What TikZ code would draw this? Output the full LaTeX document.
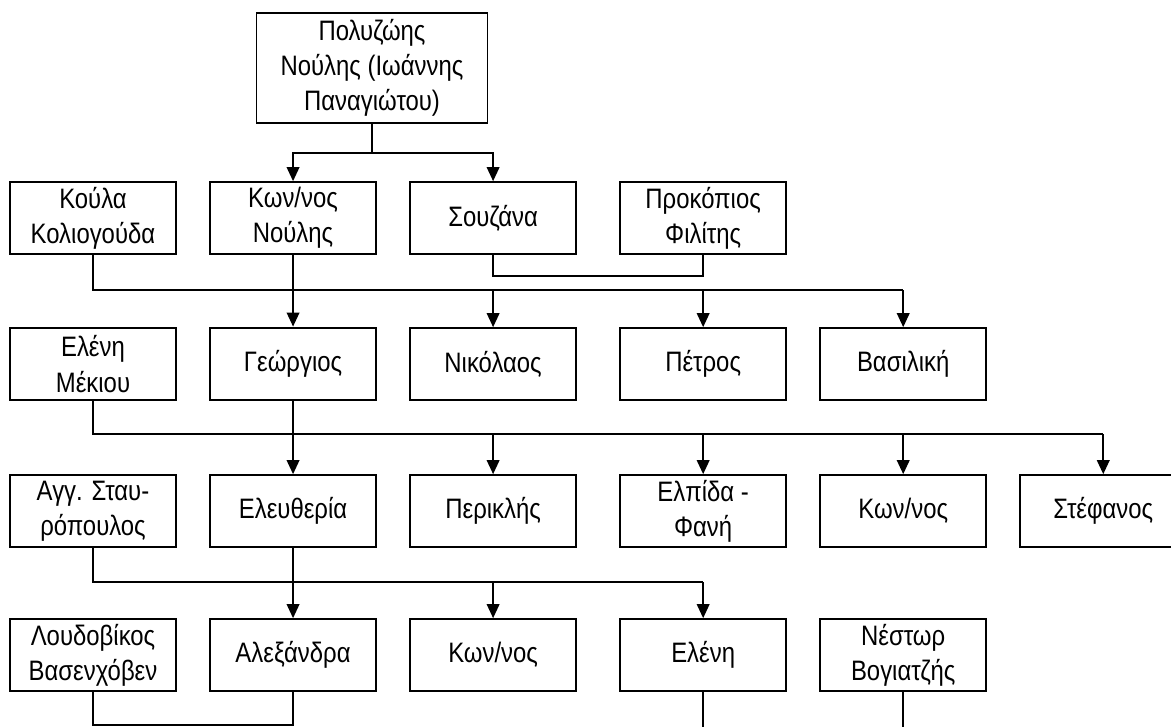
\documentclass[tikz,border=0pt]{standalone}
\usepackage{fontspec}
\setmainfont{Liberation Sans}[FakeStretch=0.85]
\usetikzlibrary{positioning}
\usetikzlibrary{arrows.meta}
\tikzset{person/.style={draw, line width=1.2pt, align=center, minimum width=4.15cm, minimum height=1.8cm, inner sep=2pt, font=\fontsize{20}{25}\selectfont}}

\begin{document}
\begin{tikzpicture}[x=0.025cm, y=-0.025cm, node distance=5cm,
    head/.style={person, line width=2pt},
    arrow/.style={-{Triangle[width=9pt,length=10pt]}, line width=1.2pt},
    link/.style={line width=1.2pt},
]
\useasboundingbox (0,0) rectangle (1171,726);

\node[person, minimum width=5.78cm, minimum height=2.75cm] (polyzois) at (372,68) {Πολυζώης\\Νούλης (Ιωάννης\\Παναγιώτου)};

\node[person] (koula) at (93,218) {Κούλα\\Κολιογούδα};
\node[person, right of=koula] (konstantinos) {Κων/νος\\Νούλης};
\node[person, right of=konstantinos] (souzana) {Σουζάνα};
\node[person, right of=souzana, xshift=0.25cm] (prokopios) {Προκόπιος\\Φιλίτης};

\node[person] (elenimekiou) at (93,364) {Ελένη\\Μέκιου};
\node[head, right of=elenimekiou] (georgios) {Γεώργιος};
\node[person, right of=georgios] (nikolaos) {Νικόλαος};
\node[person, right of=nikolaos, xshift=0.25cm] (petros) {Πέτρος};
\node[person, right of=petros] (vasiliki) {Βασιλική};

\node[person] (angelos) at (93,511) {Αγγ. Σταυ-\\ρόπουλος};
\node[person, right of=angelos] (eleftheria) {Ελευθερία};
\node[person, right of=eleftheria] (periklis) {Περικλής};
\node[person, right of=periklis, xshift=0.25cm] (elpida) {Ελπίδα -\\Φανή};
\node[person, right of=elpida] (konstantinos2) {Κων/νος};
\node[person, right of=konstantinos2] (stefanos) {Στέφανος};

\node[person] (loudovikos) at (93,655) {Λουδοβίκος\\Βασενχόβεν};
\node[person, right of=loudovikos] (alexandra) {Αλεξάνδρα};
\node[person, right of=alexandra] (konstantinos3) {Κων/νος};
\node[person, right of=konstantinos3, xshift=0.25cm] (eleni) {Ελένη};
\node[person, right of=eleni] (nestor) {Νέστωρ\\Βογιατζής};

% first generation
\coordinate (split0) at (polyzois |- 0,153);
\draw[link] (polyzois) -- (split0);
\draw[arrow] (split0) -| (konstantinos);
\draw[arrow] (split0) -| (souzana);
\draw[link] (souzana.south) -- ++(0,21) -| (prokopios.south);

% children of Konstantinos and Koula
\path (vasiliki.north) ++(0,-37) coordinate (m1);
\draw[link] (koula) |- (m1);
\draw[arrow] (konstantinos) -- (georgios);
\foreach \child in {nikolaos, petros, vasiliki}
  \draw[arrow] (\child |- m1) -- (\child);

% children of Georgios and Eleni
\path (stefanos.north) ++(0,-40) coordinate (m2);
\draw[link] (elenimekiou) |- (m2);
\draw[arrow] (georgios) -- (eleftheria);
\foreach \child in {periklis, elpida, konstantinos2, stefanos}
  \draw[arrow] (\child |- m2) -- (\child);

% children of Eleftheria
\path (eleni.north) ++(0,-36) coordinate (m3);
\draw[link] (angelos) |- (m3);
\draw[arrow] (eleftheria) -- (alexandra);
\foreach \child in {konstantinos3, eleni}
  \draw[arrow] (\child |- m3) -- (\child);

\draw[link] (loudovikos.south) -- ++(0,33) -| (alexandra.south);
\coordinate (cut1) at (eleni |- 0,740);
\coordinate (cut2) at (nestor |- 0,740);
\draw[link] (eleni) -- (cut1);
\draw[link] (nestor) -- (cut2);

\end{tikzpicture}
\end{document}
